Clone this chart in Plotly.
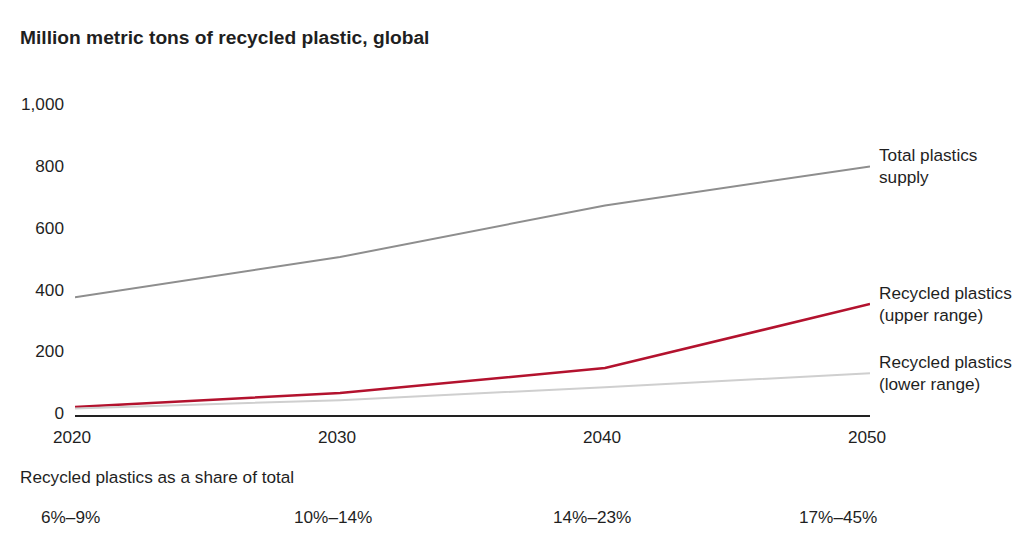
import plotly.graph_objects as go

# ---- data ----
years = [2020, 2030, 2040, 2050]
total_supply = [375, 505, 672, 798]
recycled_upper = [20, 65, 146, 353]
recycled_lower = [15, 42, 84, 129]
y_ticks = [0, 200, 400, 600, 800, 1000]
y_tick_text = ["0", "200", "400", "600", "800", "1,000"]
share_labels = ["6%–9%", "10%–14%", "14%–23%", "17%–45%"]
series_labels = ["Total plastics<br>supply", "Recycled plastics<br>(upper range)", "Recycled plastics<br>(lower range)"]
title_text = "Million metric tons of recycled plastic, global"
share_title = "Recycled plastics as a share of total"

FONT = "Liberation Sans, Arial, sans-serif"
TXT = "#1f1f1f"
FS = 17.2
W, H = 1031, 547
L, R, T, B = 75, 161, 104, 132
PH = H - T - B
PW = W - L - R

def py(p):  # pixel y -> paper y
    return (H - B - p) / PH

def px(p):
    return (p - L) / PW

fig = go.Figure()
colors = ["#8e8e8e", "#b3122e", "#cfcfcf"]
widths = [2, 2.5, 2]
for vals, c, w in zip([total_supply, recycled_upper, recycled_lower], colors, widths):
    fig.add_trace(go.Scatter(x=years, y=vals, mode="lines",
                             line=dict(color=c, width=w), showlegend=False, hoverinfo="x+y"))

# end labels
for vals, lab in zip([total_supply, recycled_upper, recycled_lower], series_labels):
    fig.add_annotation(x=years[-1], y=vals[-1], xref="x", yref="y", text=lab,
                       showarrow=False, xanchor="left", yanchor="middle", align="left",
                       xshift=7, font=dict(family=FONT, size=FS, color=TXT))

# share row
fig.add_annotation(x=px(18), y=py(477), xref="paper", yref="paper", text=share_title,
                   showarrow=False, xanchor="left", yanchor="middle",
                   font=dict(family=FONT, size=FS, color=TXT))
share_shift = [-5, -7, -13, -32]
for yr, lab, sh in zip(years, share_labels, share_shift):
    fig.add_annotation(x=yr, y=py(517), xref="x", yref="paper", text=lab,
                       showarrow=False, xanchor="center", yanchor="middle", xshift=sh,
                       font=dict(family=FONT, size=FS, color=TXT))

fig.update_layout(
    width=W, height=H,
    margin=dict(l=L, r=R, t=T, b=B),
    paper_bgcolor="white", plot_bgcolor="white",
    title=dict(text="<b>" + title_text + "</b>", x=20 / W, xref="container", xanchor="left",
               y=1 - 37 / H, yref="container", yanchor="middle",
               font=dict(family=FONT, size=19.2, color=TXT)),
    font=dict(family=FONT, size=FS, color=TXT),
)
fig.update_xaxes(range=[2020, 2050], tickvals=years, ticktext=[str(y) for y in years],
                 showgrid=False, zeroline=False, showline=True, linecolor="#222222", linewidth=2,
                 ticks="", ticklabelstandoff=5, ticklabelshift=-3,
                 tickfont=dict(family=FONT, size=FS, color=TXT))
fig.update_yaxes(range=[-6, 1000], tickvals=y_ticks, ticktext=y_tick_text,
                 showgrid=False, zeroline=False, showline=False, ticks="",
                 ticklabelstandoff=10, tickfont=dict(family=FONT, size=FS, color=TXT))

fig.write_html("out.html")
